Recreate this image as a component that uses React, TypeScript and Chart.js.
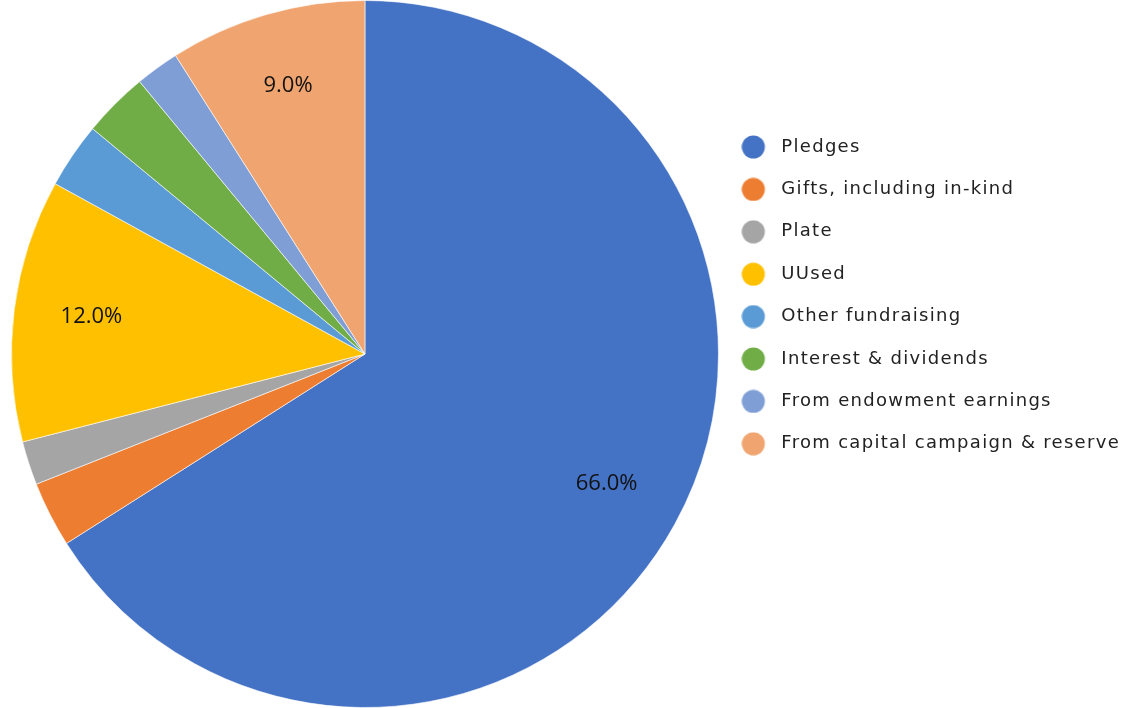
import React, { useEffect, useRef } from 'react';
import { Chart, registerables } from 'chart.js';

Chart.register(...registerables);

const categories = [
  'Pledges',
  'Gifts, including in-kind',
  'Plate',
  'UUsed',
  'Other fundraising',
  'Interest & dividends',
  'From endowment earnings',
  'From capital campaign & reserve',
];
const shares = [66, 3, 2, 12, 3, 3, 2, 9];
const sliceColors = ['#4472C4', '#ED7D31', '#A5A5A5', '#FFC000', '#5B9BD5', '#70AD47', '#7F9ED6', '#F0A46F'];
const labelThreshold = 9;

function makeDot(color: string) {
  const c = document.createElement('canvas');
  c.width = 44;
  c.height = 24;
  const g = c.getContext('2d')!;
  g.fillStyle = color;
  g.beginPath();
  g.arc(12, 12, 11.5, 0, Math.PI * 2);
  g.fill();
  return c;
}

const trackingPlugin = {
  id: 'tracking',
  beforeLayout(chart: any) {
    chart.ctx.letterSpacing = '1.3px';
  },
  beforeDraw(chart: any) {
    chart.ctx.letterSpacing = '1.3px';
  },
};

const sliceLabelPlugin = {
  id: 'sliceLabels',
  afterDatasetsDraw(chart: any) {
    const ctx = chart.ctx;
    const meta = chart.getDatasetMeta(0);
    ctx.save();
    ctx.letterSpacing = '0px';
    ctx.font = '22px "Open Sans"';
    ctx.fillStyle = '#111111';
    ctx.textAlign = 'center';
    ctx.textBaseline = 'middle';
    meta.data.forEach((arc: any, i: number) => {
      const v = shares[i];
      if (v < labelThreshold) return;
      const { x, y, startAngle, endAngle, outerRadius } = arc.getProps(
        ['x', 'y', 'startAngle', 'endAngle', 'outerRadius'],
        true
      );
      const mid = (startAngle + endAngle) / 2;
      const r = outerRadius * 0.78;
      ctx.fillText(v.toFixed(1) + '%', x + Math.cos(mid) * r, y + Math.sin(mid) * r - 3);
    });
    ctx.restore();
  },
};

export default function App() {
  const ref = useRef<HTMLCanvasElement>(null);

  useEffect(() => {
    if (!ref.current) return;
    const dots = sliceColors.map(makeDot);
    const chart = new Chart(ref.current, {
      type: 'pie',
      data: {
        labels: categories,
        datasets: [
          {
            data: shares,
            backgroundColor: sliceColors,
            borderColor: 'rgba(255,255,255,0.6)',
            borderWidth: 1,
          },
        ],
      },
      options: {
        responsive: true,
        maintainAspectRatio: false,
        animation: false,
        layout: { padding: 0 },
        plugins: {
          tooltip: { enabled: false },
          legend: {
            position: 'right',
            align: 'start',
            title: {
              display: true,
              text: '',
              padding: { top: 0, bottom: 101.6 },
              font: { size: 10, lineHeight: 1.2 },
            },
            labels: {
              usePointStyle: true,
              boxWidth: 18,
              boxHeight: 18,
              padding: 24.4,
              color: '#222222',
              font: { family: '"DejaVu Sans"', size: 18 },
              generateLabels: (ch: any) =>
                categories.map((text, i) => ({
                  text,
                  fillStyle: sliceColors[i],
                  strokeStyle: sliceColors[i],
                  lineWidth: 0,
                  pointStyle: dots[i],
                  hidden: !ch.getDataVisibility(i),
                  index: i,
                  fontColor: '#222222',
                })),
            },
          },
        },
      } as any,
      plugins: [trackingPlugin, sliceLabelPlugin],
    });
    return () => chart.destroy();
  }, []);

  return (
    <div style={{ position: 'fixed', left: 0, top: 0, width: 1130, height: 708, background: '#fff' }}>
      <canvas ref={ref} />
    </div>
  );
}
